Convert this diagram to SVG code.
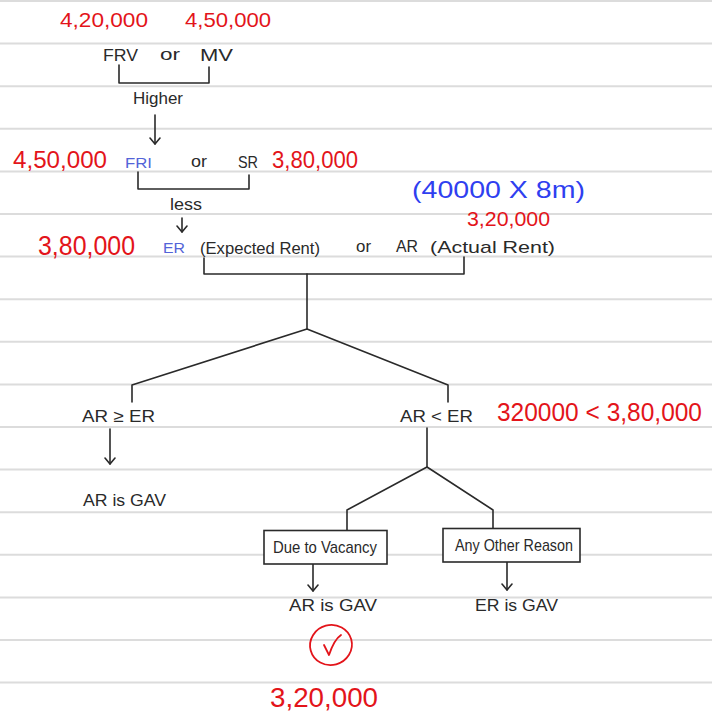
<svg xmlns="http://www.w3.org/2000/svg" width="712" height="713" viewBox="0 0 712 713">
  <style>
    .rule { stroke: #dcdcdc; stroke-width: 2; }
    .ink { font-family: "Liberation Sans", "DejaVu Sans", sans-serif; fill: #2a2a2a; font-size: 17px; }
    .red { font-family: "Liberation Sans", "DejaVu Sans", sans-serif; fill: #e3141a; }
    .blue { font-family: "Liberation Sans", "DejaVu Sans", sans-serif; fill: #5364d8; font-size: 15px; }
    .blue2 { font-family: "Liberation Sans", "DejaVu Sans", sans-serif; fill: #2f3ff0; }
    .wire { fill: none; stroke: #2a2a2a; stroke-width: 1.6; stroke-linecap: round; stroke-linejoin: round; }
    .box { fill: #ffffff; stroke: #2a2a2a; stroke-width: 1.6; }
  </style>
  <defs>
    <!-- open V arrowhead, drawn pointing along +x so orient="auto" turns it with the line -->
    <marker id="arrow" viewBox="0 0 10 12" refX="9" refY="6" markerWidth="10" markerHeight="12" markerUnits="userSpaceOnUse" orient="auto">
      <path d="M3 1 L9 6 L3 11" fill="none" stroke="#2a2a2a" stroke-width="1.6" stroke-linecap="round" stroke-linejoin="round"/>
    </marker>
  </defs>

  <!-- notebook paper -->
  <rect width="712" height="713" fill="#ffffff"/>
  <g id="ruled-lines">
    <line class="rule" x1="0" y1="1" x2="712" y2="1" stroke-width="3"/>
    <line class="rule" x1="0" y1="43.6" x2="712" y2="43.6"/>
    <line class="rule" x1="0" y1="86.2" x2="712" y2="86.2"/>
    <line class="rule" x1="0" y1="128.8" x2="712" y2="128.8"/>
    <line class="rule" x1="0" y1="171.4" x2="712" y2="171.4"/>
    <line class="rule" x1="0" y1="214" x2="712" y2="214"/>
    <line class="rule" x1="0" y1="256.6" x2="712" y2="256.6"/>
    <line class="rule" x1="0" y1="299.2" x2="712" y2="299.2"/>
    <line class="rule" x1="0" y1="341.8" x2="712" y2="341.8"/>
    <line class="rule" x1="0" y1="384.4" x2="712" y2="384.4"/>
    <line class="rule" x1="0" y1="427" x2="712" y2="427"/>
    <line class="rule" x1="0" y1="469.6" x2="712" y2="469.6"/>
    <line class="rule" x1="0" y1="512.2" x2="712" y2="512.2"/>
    <line class="rule" x1="0" y1="554.8" x2="712" y2="554.8"/>
    <line class="rule" x1="0" y1="597.4" x2="712" y2="597.4"/>
    <line class="rule" x1="0" y1="640" x2="712" y2="640"/>
    <line class="rule" x1="0" y1="682.6" x2="712" y2="682.6"/>
  </g>

  <!-- connectors -->
  <g id="connectors">
    <path class="wire" d="M119 65 V83 H209 V67"/>
    <path class="wire" d="M155 115 V144" marker-end="url(#arrow)"/>
    <path class="wire" d="M138 172 V189 H249 V175"/>
    <path class="wire" d="M182 218 V232" marker-end="url(#arrow)"/>
    <path class="wire" d="M204 258 V274 H464 V257"/>
    <path class="wire" d="M307 274 V329"/>
    <path class="wire" d="M132 402 V385 L307 329 L448 385 V402"/>
    <path class="wire" d="M110 429 V464" marker-end="url(#arrow)"/>
    <path class="wire" d="M427 428 V467"/>
    <path class="wire" d="M347 530 V510 L427 467 L493 510 V529"/>
    <path class="wire" d="M313 564 V591" marker-end="url(#arrow)"/>
    <path class="wire" d="M507 562 V590" marker-end="url(#arrow)"/>
  </g>

  <!-- values above the first choice -->
  <g id="top-values">
    <text class="red" x="60" y="27" font-size="21" textLength="88" lengthAdjust="spacingAndGlyphs">4,20,000</text>
    <text class="red" x="185" y="27" font-size="21" textLength="86" lengthAdjust="spacingAndGlyphs">4,50,000</text>
  </g>

  <g id="frv-or-mv">
    <text class="ink" x="103" y="61" font-size="19" textLength="35" lengthAdjust="spacingAndGlyphs">FRV</text>
    <text class="ink" x="160" y="60" font-size="19" textLength="20" lengthAdjust="spacingAndGlyphs">or</text>
    <text class="ink" x="200" y="61" font-size="19" textLength="33" lengthAdjust="spacingAndGlyphs">MV</text>
  </g>

  <g id="higher">
    <text class="ink" x="133" y="104" font-size="15" textLength="50" lengthAdjust="spacingAndGlyphs">Higher</text>
  </g>

  <g id="fri-or-sr">
    <text class="red" x="13" y="168" font-size="23" textLength="94" lengthAdjust="spacingAndGlyphs">4,50,000</text>
    <text class="blue" x="125" y="168" textLength="27" lengthAdjust="spacingAndGlyphs">FRI</text>
    <text class="ink" x="191" y="167" font-size="16" textLength="16" lengthAdjust="spacingAndGlyphs">or</text>
    <text class="ink" x="238" y="168" font-size="16" textLength="20" lengthAdjust="spacingAndGlyphs">SR</text>
    <text class="red" x="272" y="168" font-size="23" textLength="86" lengthAdjust="spacingAndGlyphs">3,80,000</text>
  </g>

  <g id="less">
    <text class="ink" x="170" y="210" textLength="32" lengthAdjust="spacingAndGlyphs">less</text>
  </g>

  <g id="ar-calc">
    <text class="blue2" x="412" y="198" font-size="24" textLength="173" lengthAdjust="spacingAndGlyphs">(40000 X 8m)</text>
    <text class="red" x="467" y="226" font-size="20" textLength="83" lengthAdjust="spacingAndGlyphs">3,20,000</text>
  </g>

  <g id="er-or-ar">
    <text class="red" x="38" y="255" font-size="28" textLength="97" lengthAdjust="spacingAndGlyphs">3,80,000</text>
    <text class="blue" x="163" y="253" textLength="22" lengthAdjust="spacingAndGlyphs">ER</text>
    <text class="ink" x="200" y="254" font-size="16" textLength="120" lengthAdjust="spacingAndGlyphs">(Expected Rent)</text>
    <text class="ink" x="356" y="252" font-size="16" textLength="15" lengthAdjust="spacingAndGlyphs">or</text>
    <text class="ink" x="396" y="252" font-size="16" textLength="22" lengthAdjust="spacingAndGlyphs">AR</text>
    <text class="ink" x="430" y="253" font-size="16" textLength="125" lengthAdjust="spacingAndGlyphs">(Actual Rent)</text>
  </g>

  <g id="ar-ge-er">
    <text class="ink" x="82" y="422" font-size="18" textLength="73" lengthAdjust="spacingAndGlyphs">AR ≥ ER</text>
  </g>

  <g id="ar-lt-er">
    <text class="ink" x="400" y="422" font-size="18" textLength="73" lengthAdjust="spacingAndGlyphs">AR &lt; ER</text>
    <text class="red" x="497" y="421" font-size="25" textLength="205" lengthAdjust="spacingAndGlyphs">320000 &lt; 3,80,000</text>
  </g>

  <g id="left-result">
    <text class="ink" x="83" y="506" textLength="83" lengthAdjust="spacingAndGlyphs">AR is GAV</text>
  </g>

  <g id="due-to-vacancy">
    <rect class="box" x="264" y="530.5" width="123" height="33.5"/>
    <text class="ink" x="273" y="553" font-size="16" textLength="104" lengthAdjust="spacingAndGlyphs">Due to Vacancy</text>
  </g>

  <g id="any-other-reason">
    <rect class="box" x="443" y="528.5" width="137" height="33.5"/>
    <text class="ink" x="455" y="551" font-size="16" textLength="118" lengthAdjust="spacingAndGlyphs">Any Other Reason</text>
  </g>

  <g id="vacancy-result">
    <text class="ink" x="289" y="611" textLength="88" lengthAdjust="spacingAndGlyphs">AR is GAV</text>
    <ellipse cx="331" cy="645" rx="21" ry="20" fill="none" stroke="#e3141a" stroke-width="1.8" transform="rotate(-15 331 645)"/>
    <path d="M324 645 L329 655 C332 646 335 639 341 635" fill="none" stroke="#e3141a" stroke-width="1.8" stroke-linecap="round" stroke-linejoin="round"/>
    <text class="red" x="270" y="707" font-size="28" textLength="108" lengthAdjust="spacingAndGlyphs">3,20,000</text>
  </g>

  <g id="other-result">
    <text class="ink" x="475" y="611" textLength="83" lengthAdjust="spacingAndGlyphs">ER is GAV</text>
  </g>
</svg>
